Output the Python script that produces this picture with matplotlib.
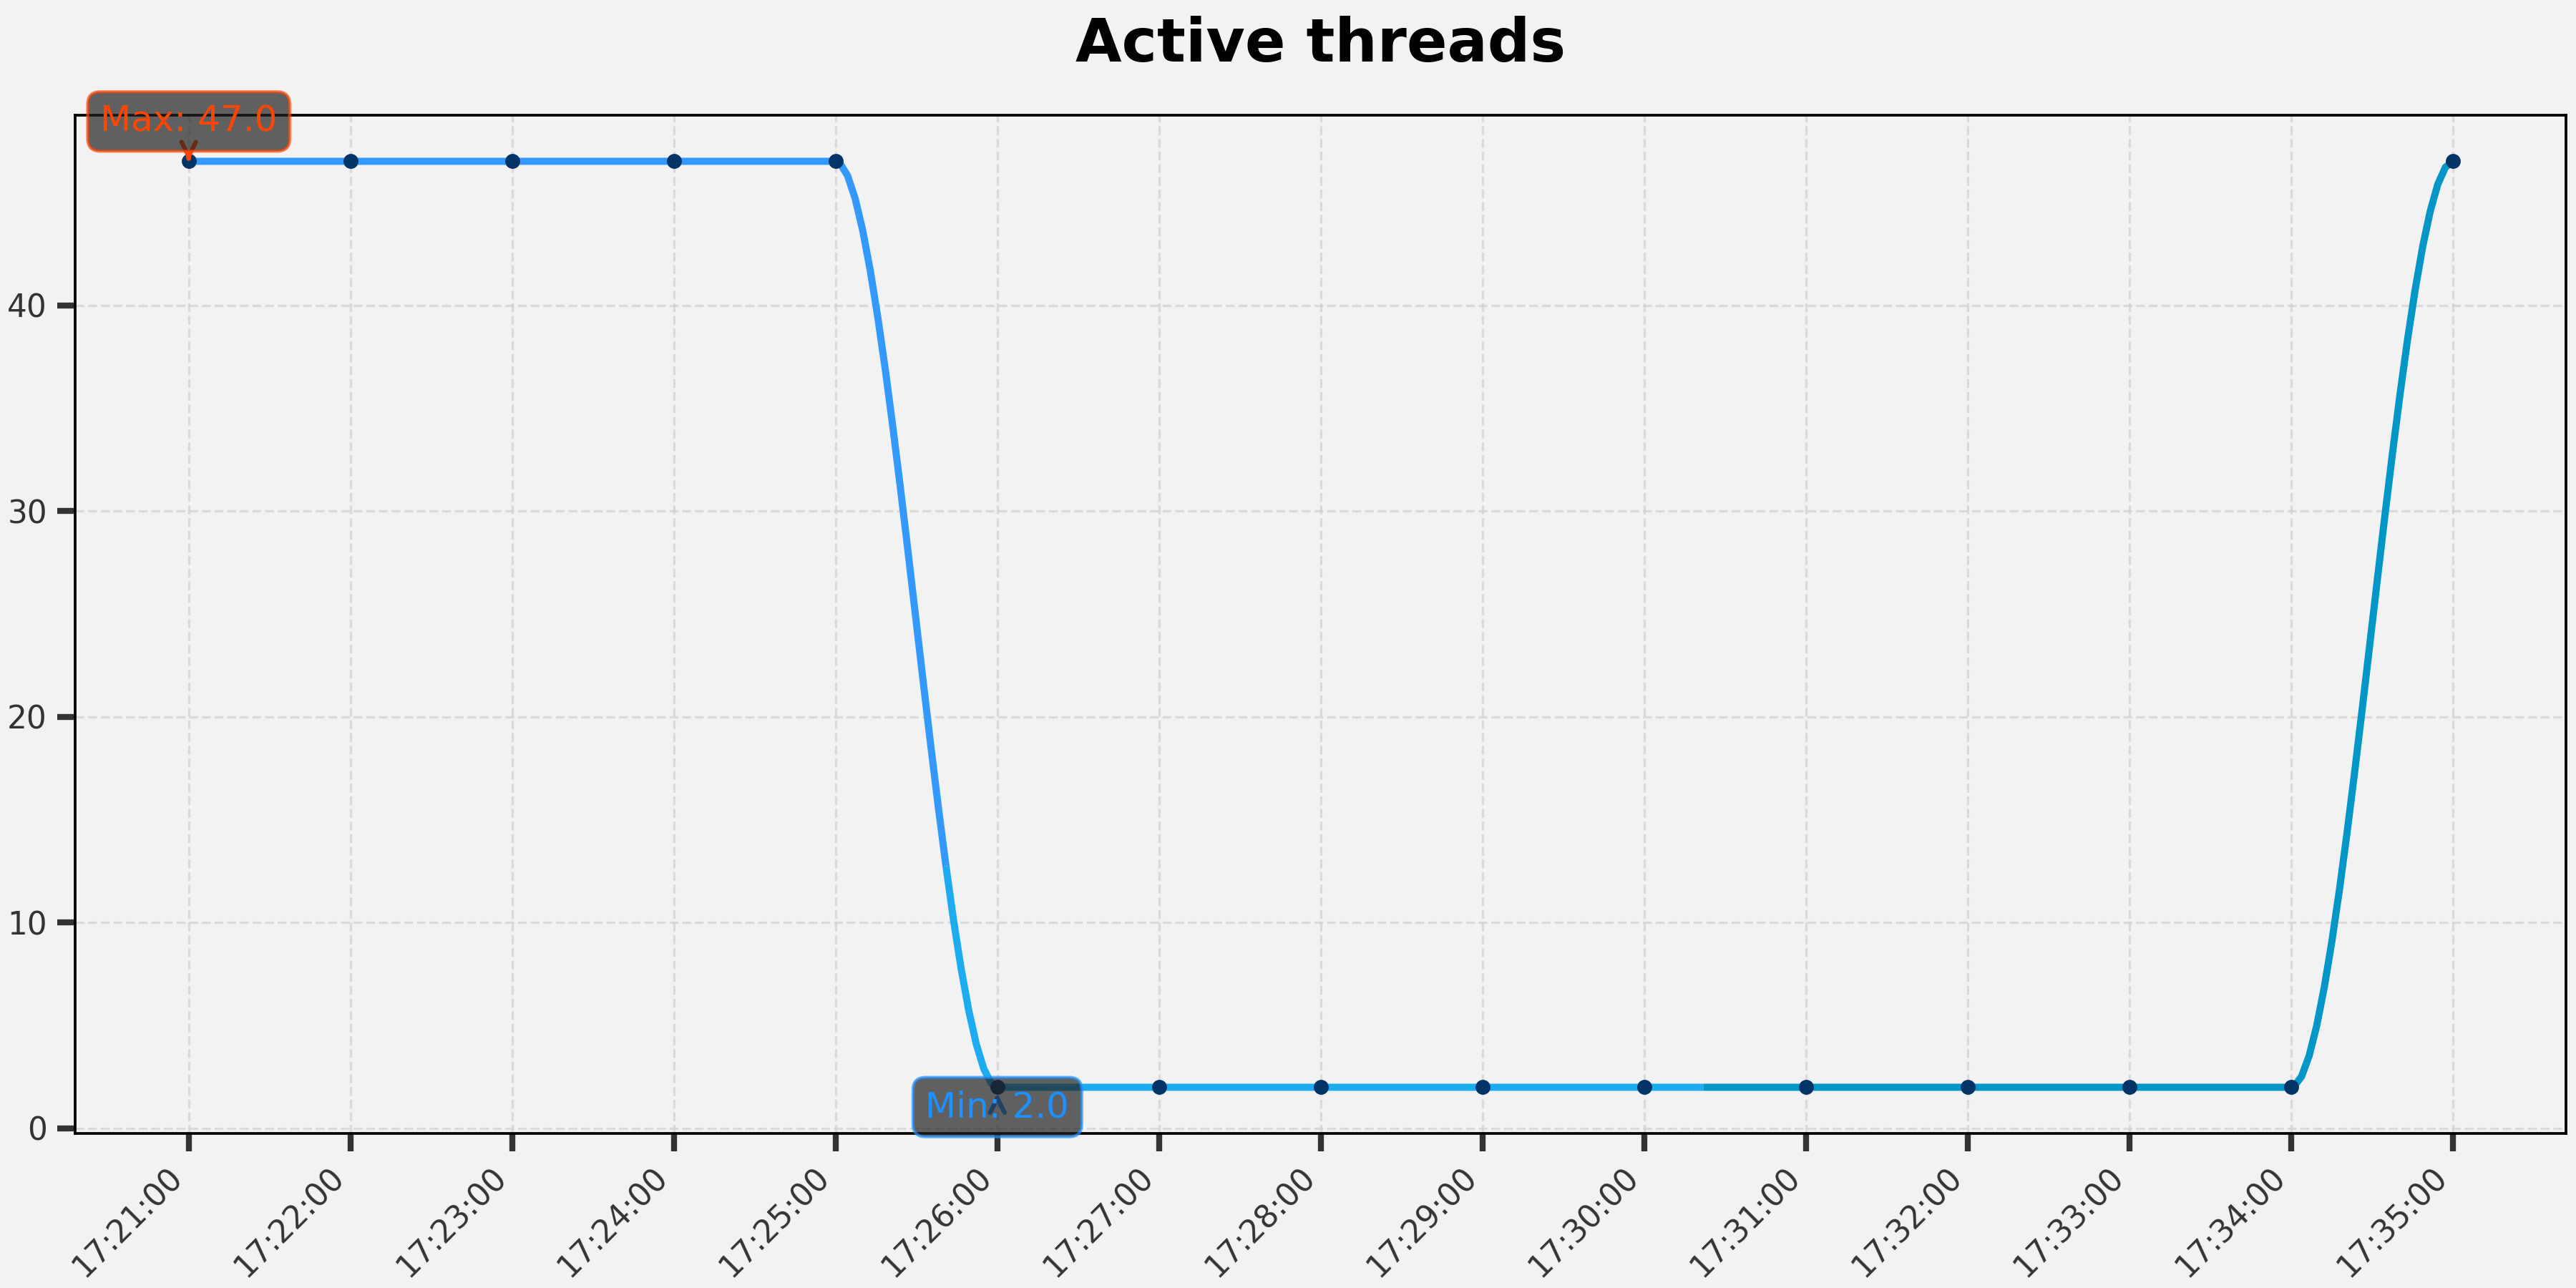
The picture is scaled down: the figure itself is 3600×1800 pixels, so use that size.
from datetime import datetime
import numpy as np
import matplotlib
matplotlib.use('Agg')
import matplotlib.pyplot as plt
import matplotlib.dates as mdates

# Data
times = ['17:21:00', '17:22:00', '17:23:00', '17:24:00', '17:25:00',
         '17:26:00', '17:27:00', '17:28:00', '17:29:00', '17:30:00',
         '17:31:00', '17:32:00', '17:33:00', '17:34:00', '17:35:00']
threads = [47, 47, 47, 47, 47, 2, 2, 2, 2, 2, 2, 2, 2, 2, 47]

segment_colors = ['#3399ff', '#1eacf0', '#0096c8']
BG = '#f2f2f2'


def smooth_curve(x, y, n=300):
    """ Smoothstep between consecutive points (flat at each point) """
    xs = np.linspace(x[0], x[-1], n)
    idx = np.clip(np.searchsorted(x, xs, side='right') - 1, 0, len(x) - 2)
    t = (xs - x[idx]) / (x[idx + 1] - x[idx])
    s = 3 * t ** 2 - 2 * t ** 3
    return xs, y[idx] + (y[idx + 1] - y[idx]) * s


stamps = [datetime.strptime('2024-01-01 ' + t, '%Y-%m-%d %H:%M:%S') for t in times]
xnum = mdates.date2num(stamps)
yarr = np.array(threads, dtype=float)

fig, ax = plt.subplots(figsize=(12, 6), dpi=300)
fig.patch.set_facecolor(BG)
ax.set_facecolor(BG)

# Smoothed line, drawn in three coloured chunks
xs, ys = smooth_curve(xnum, yarr)
n = len(xs)
cuts = [0, n // 3, 2 * n // 3, n - 1]
for i, c in enumerate(segment_colors):
    a, b = cuts[i], cuts[i + 1] + 1
    ax.plot(mdates.num2date(xs[a:b]), ys[a:b], color=c, lw=2.4,
            solid_capstyle='butt', zorder=2)

ax.plot(stamps, threads, 'o', color='#003366', ms=4, zorder=3)

# Max / min annotations
imax = int(np.argmax(yarr))
imin = int(np.argmin(yarr))
ax.annotate(f'Max: {yarr[imax]:.1f}', xy=(stamps[imax], yarr[imax]),
            xytext=(0, 10), textcoords='offset points', ha='center',
            fontsize=12, color='#ff4500', zorder=5,
            bbox=dict(boxstyle='round,pad=0.35', fc='#222222', ec='#ff4500', alpha=0.7),
            arrowprops=dict(arrowstyle='->', color='#ff4500', lw=1.5))
ax.annotate(f'Min: {yarr[imin]:.1f}', xy=(stamps[imin], yarr[imin]),
            xytext=(0, -10), textcoords='offset points', ha='center',
            fontsize=12, color='#1e90ff', zorder=5,
            bbox=dict(boxstyle='round,pad=0.35', fc='#222222', ec='#1e90ff', alpha=0.7),
            arrowprops=dict(arrowstyle='->', color='#1e90ff', lw=1.5))

ax.set_title('Active threads', fontsize=20, fontweight='bold', pad=18)

ax.xaxis.set_major_locator(mdates.MinuteLocator())
ax.xaxis.set_major_formatter(mdates.DateFormatter('%H:%M:%S'))
plt.setp(ax.get_xticklabels(), rotation=45, ha='right')

ax.grid(True, linestyle='--', color='#d0d0d0', alpha=0.7, lw=0.8)
ax.set_axisbelow(True)
ax.tick_params(axis='both', labelsize=10.5, colors='#333333', length=6, width=2)
for sp in ax.spines.values():
    sp.set_color('black')
    sp.set_linewidth(0.9)

fig.subplots_adjust(left=0.0293, right=0.9962, top=0.9107, bottom=0.1199)
plt.savefig('out.png', dpi=300, facecolor=BG)
